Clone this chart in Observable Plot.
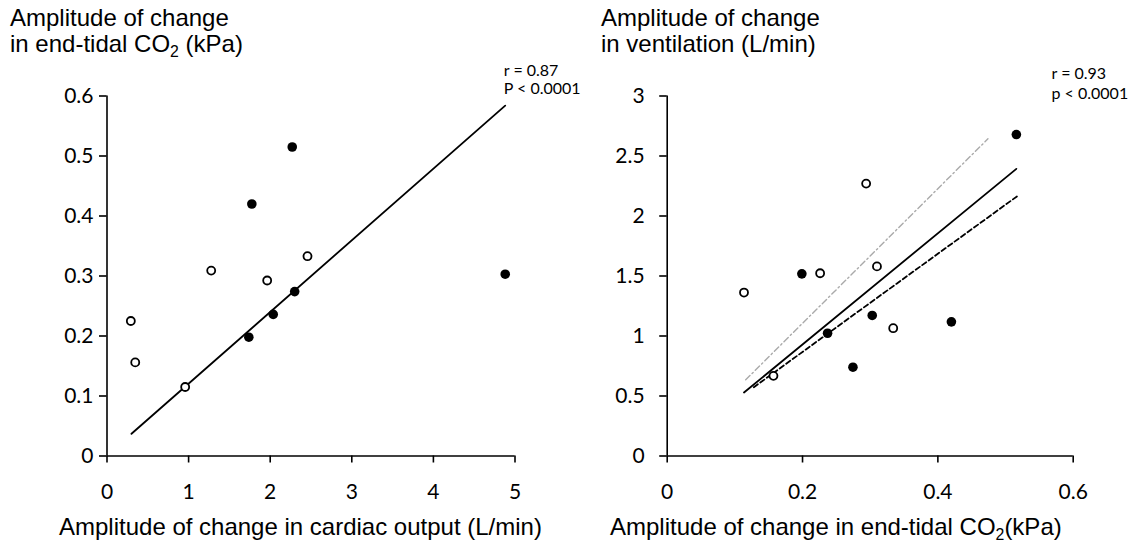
<!DOCTYPE html>
<html><head><meta charset="utf-8">
<script src="https://cdn.jsdelivr.net/npm/d3@7"></script>
<script src="https://cdn.jsdelivr.net/npm/@observablehq/plot@0.6"></script>
<style>
body{margin:0;background:#fff;}
#wrap{position:relative;width:1136px;height:550px;overflow:hidden;font-family:"Liberation Sans",Arial,sans-serif;color:#000;}
.panel{position:absolute;top:0;width:568px;height:550px;}
.panel svg{overflow:visible;}
.title{position:absolute;font-size:24px;line-height:26px;white-space:nowrap;}
.xlab{position:absolute;font-size:24px;line-height:30px;white-space:nowrap;}
sub{font-size:0.66em;vertical-align:-0.3em;line-height:0;}
</style></head><body>
<div id="wrap">
  <div class="panel" id="left" style="left:0"></div>
  <div class="panel" id="right" style="left:568px"></div>
  <div class="title" style="left:10px;top:5px">Amplitude of change<br>in end-tidal CO<sub>2</sub> (kPa)</div>
  <div class="title" style="left:601px;top:5px">Amplitude of change<br>in ventilation (L/min)</div>
  <div class="xlab" style="left:59px;top:512px">Amplitude of change in cardiac output (L/min)</div>
  <div class="xlab" style="left:610px;top:512px">Amplitude of change in end-tidal CO<sub>2</sub>(kPa)</div>
</div>
<script>
// ---- tick values ----
const leftXTicks = [0, 1, 2, 3, 4, 5];
const leftYTicks = [0, 0.1, 0.2, 0.3, 0.4, 0.5, 0.6];
const rightXTicks = [0, 0.2, 0.4, 0.6];
const rightYTicks = [0, 0.5, 1, 1.5, 2, 2.5, 3];

// ---- left panel: cardiac output (x) vs end-tidal CO2 (y) ----
const leftFilledX = [2.27, 1.775, 4.88, 2.30, 2.037, 1.738];
const leftFilledY = [0.515, 0.42, 0.303, 0.274, 0.236, 0.198];
const leftOpenX = [2.457, 1.277, 1.963, 0.292, 0.346, 0.958];
const leftOpenY = [0.333, 0.309, 0.2925, 0.225, 0.156, 0.115];
const leftFitX = [0.30, 4.88];
const leftFitY = [0.037, 0.584];
const leftStats = ["r = 0.87", "P < 0.0001"];
const leftStatX = [4.863, 4.863];
const leftStatY = [0.6425, 0.612];

// ---- right panel: end-tidal CO2 (x) vs ventilation (y) ----
const rightFilledX = [0.516, 0.199, 0.303, 0.237, 0.42, 0.2745];
const rightFilledY = [2.679, 1.518, 1.171, 1.023, 1.118, 0.74];
const rightOpenX = [0.294, 0.226, 0.31, 0.1135, 0.334, 0.157];
const rightOpenY = [2.27, 1.523, 1.58, 1.362, 1.065, 0.668];
const rightSolidX = [0.1135, 0.516];
const rightSolidY = [0.529, 2.393];
const rightDashX = [0.128, 0.5185];
const rightDashY = [0.573, 2.17];
const rightDashDotX = [0.116, 0.474];
const rightDashDotY = [0.635, 2.643];
const rightStats = ["r = 0.93", "p < 0.0001"];
const rightStatX = [0.568, 0.568];
const rightStatY = [3.1875, 3.021];

const pts = (xs, ys) => xs.map((x, i) => ({x, y: ys[i]}));
const labs = (ts, xs, ys) => ts.map((t, i) => ({t, x: xs[i], y: ys[i]}));

const tickFont = {fontFamily: "Lato, 'Open Sans', sans-serif", fontSize: 21, tickFormat: d => String(d)};

function panel(o) {
  return Plot.plot({
    width: 568, height: 550,
    marginLeft: o.ml, marginRight: o.mr, marginTop: 95.5, marginBottom: 94.5,
    x: {domain: o.xd}, y: {domain: o.yd},
    style: {background: "transparent", color: "#000", fontFamily: "Lato, sans-serif", overflow: "visible"},
    marks: [
      Plot.axisX({ticks: o.xt, tickSize: 7, tickPadding: 21, label: null, strokeWidth: 1.6, ...tickFont}),
      Plot.axisY({ticks: o.yt, tickSize: 7.5, tickPadding: o.yp, label: null, strokeWidth: 1.6, ...tickFont}),
      Plot.ruleX([0], {stroke: "#000", strokeWidth: 1.6}),
      Plot.ruleY([0], {stroke: "#000", strokeWidth: 1.6}),
      ...o.lines,
      Plot.dot(o.open, {x: "x", y: "y", r: 4, stroke: "#000", strokeWidth: 1.8, fill: "#fff"}),
      Plot.dot(o.filled, {x: "x", y: "y", r: 4.8, fill: "#000", stroke: "none"}),
      Plot.text(o.stats, {x: "x", y: "y", text: "t", textAnchor: "start", fontSize: 16, fontFamily: "Lato, sans-serif", fill: "#000"})
    ]
  });
}

const line = (xs, ys, opts) => Plot.line(pts(xs, ys), {x: "x", y: "y", ...opts});

document.getElementById("left").append(panel({
  ml: 106.5, mr: 53.5, xd: [0, 5], yd: [0, 0.6], xt: leftXTicks, yt: leftYTicks, yp: 6,
  open: pts(leftOpenX, leftOpenY), filled: pts(leftFilledX, leftFilledY),
  stats: labs(leftStats, leftStatX, leftStatY),
  lines: [line(leftFitX, leftFitY, {stroke: "#000", strokeWidth: 1.8})]
}));

document.getElementById("right").append(panel({
  ml: 98.7, mr: 63.3, xd: [0, 0.6], yd: [0, 3], xt: rightXTicks, yt: rightYTicks, yp: 15,
  open: pts(rightOpenX, rightOpenY), filled: pts(rightFilledX, rightFilledY),
  stats: labs(rightStats, rightStatX, rightStatY),
  lines: [
    line(rightDashDotX, rightDashDotY, {stroke: "#aaa", strokeWidth: 1.4, strokeDasharray: "6,3,1.5,3"}),
    line(rightDashX, rightDashY, {stroke: "#000", strokeWidth: 1.8, strokeDasharray: "5,3"}),
    line(rightSolidX, rightSolidY, {stroke: "#000", strokeWidth: 1.8})
  ]
}));
</script>
</body></html>
